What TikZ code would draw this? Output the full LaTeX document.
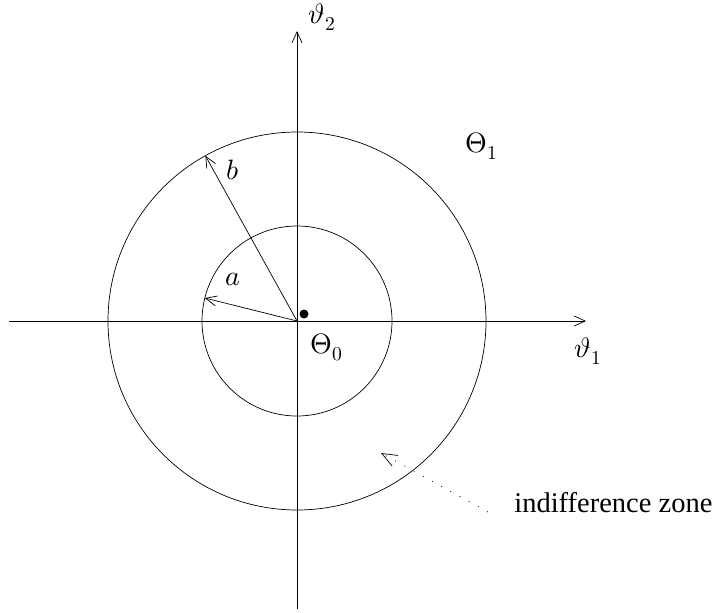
\documentclass[tikz,border=0pt]{standalone}
\usepackage{fontspec}
\usepackage{unicode-math}
\setmathfont{Latin Modern Math}
\newfontfamily\zonefont{Liberation Serif}
\usetikzlibrary{arrows.meta}
\begin{document}
\begin{tikzpicture}[x=1pt,y=-1pt, line width=0.7pt,
  tip/.style={-{Straight Barb[length=11pt,width=10pt,line width=0.7pt]}},
  lbl/.style={inner sep=0pt,font=\fontsize{28}{32}\selectfont},
  ring/.style={circle,draw,inner sep=0pt,outer sep=0pt}]
\useasboundingbox (0,0) rectangle (715,613);
\coordinate (O) at (297,321);
\coordinate (xl) at (9,321);
\coordinate (xr) at (586,321);
\coordinate (yb) at (297,609);
\coordinate (yt) at (297,31);
\draw[tip] (xl) -- (xr);
\draw[tip] (yb) -- (yt);
\node[ring,minimum size=378pt] (outer) at (O) {};
\node[ring,minimum size=190pt] (inner) at (O) {};
\draw[tip] (O) -- (outer.119.5);
\draw[tip] (O) -- (inner.166);
\node[circle,fill,minimum size=9pt,inner sep=0pt] (dot) at (304,314) {};
\node[lbl] (t2) at (322,17) {$\vartheta_2$};
\node[lbl] (t1) at (588,351) {$\vartheta_1$};
\node[lbl] (T1) at (482,146) {$\Theta_1$};
\node[lbl] (T0) at (327,347) {$\Theta_0$};
\node[lbl] (lb) at (233,170) {$b$};
\node[lbl] (la) at (233,279) {$a$};
\node[font=\zonefont\fontsize{28.5}{32}\selectfont, anchor=base west, inner sep=0pt] (zone) at (514,512) {indifference zone};
\coordinate (zs) at (488,512);
\coordinate (ztip) at (381,453);
\draw[-{Straight Barb[length=15pt,width=12pt,line width=0.7pt]}, dash pattern=on 1pt off 9.5pt] (zs) -- (ztip);
\end{tikzpicture}
\end{document}
